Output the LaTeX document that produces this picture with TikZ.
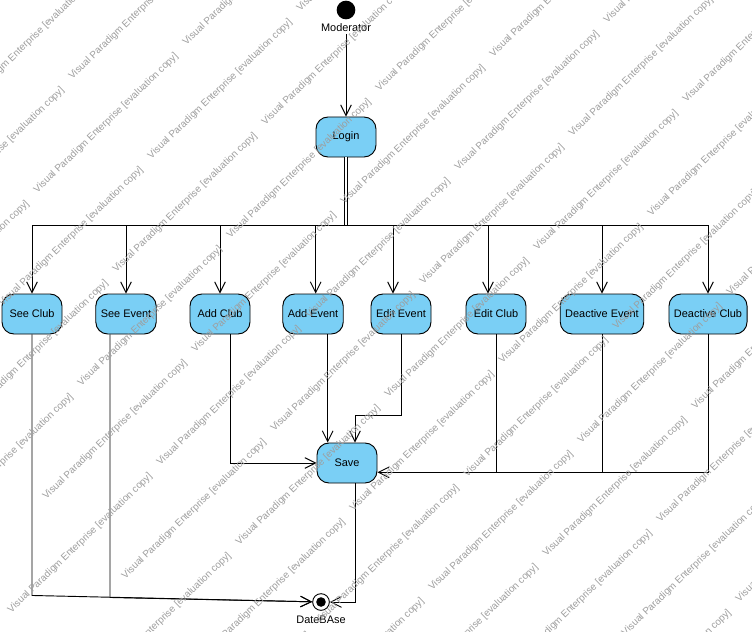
\documentclass[tikz,border=0pt]{standalone}
\usepackage{fontspec}
\setmainfont{Liberation Sans}
\usetikzlibrary{arrows.meta}
\definecolor{actblue}{HTML}{7ACFF5}

\begin{document}
\begin{tikzpicture}[x=0.75pt,y=-0.75pt,line width=0.7pt,
  act/.style={draw=black, fill=actblue, rounded corners=9pt, minimum width=45pt,
    minimum height=30pt, inner xsep=3.75pt, font=\fontsize{8.2}{10}\selectfont},
  flow/.style={-{Straight Barb[length=8pt,width=8pt]}},
  lbl/.style={font=\fontsize{8.2}{10}\selectfont, inner sep=1pt},
  wm/.style={anchor=base west, rotate=44, inner sep=0pt, text=black!38,
    font=\fontsize{7.4}{8}\selectfont}]
  % White page
  \useasboundingbox (0,0) rectangle (752,631);
  \fill[white] (0,0) rectangle (752,631);

  % Start and login
  \node[circle, fill=black, minimum size=14pt, inner sep=0pt] (start) at (346,10) {};
  \node[lbl] (modlbl) at (346,28) {Moderator};
  \node[act] (login) at (346,137) {Login};
  \draw[flow] (modlbl.south) -- (login.north);

  % Activities
  \node[act] (seeclub) at (32,314) {See Club};
  \node[act] (seeevent) at (126,314) {See Event};
  \node[act] (addclub) at (220,314) {Add Club};
  \node[act] (addevent) at (313,314) {Add Event};
  \node[act] (editevent) at (401,314) {Edit Event};
  \node[act] (editclub) at (496,314) {Edit Club};
  \node[act] (deacte) at (602,314) {Deactive Event};
  \node[act] (deactc) at (708,314) {Deactive Club};
  \node[act] (save) at (347,463) {Save};

  % Final node
  \node[circle, draw, fill=white, minimum size=12.5pt, inner sep=0pt,
    path picture={\fill[black] (path picture bounding box.center) circle (3.6pt);}]
    (final) at (321,602) {};
  \node[lbl] (dblbl) at (321,620) {DateBAse};

  % Fork from login to the activities
  \coordinate (fork) at (346,225);
  \draw[double, double distance=2pt] (login.south) -- (fork);
  \foreach \n/\dx in {seeclub/0, seeevent/0, addclub/0, addevent/2, editevent/-6,
                      editclub/-6, deacte/0, deactc/0} {
    \draw[flow] (fork) -| ([xshift=\dx pt]\n.north);
  }

  % Activities to save and to the data base
  \draw[flow] (seeclub.south) -- ++(0,261) -- (final);
  \draw[flow] ([xshift=-12pt]seeevent.south) -- ++(0,263) -- (final);
  \draw[flow] ([xshift=8pt]addclub.south) |- (save);
  \draw[flow] ([xshift=11pt]addevent.south) -- ([xshift=11pt]addevent.south |- save.north);
  \draw[flow] (editevent.south) -- ++(0,81) -| ([xshift=6pt]save.north);
  \draw (editclub.south) -- ++(0,138);
  \draw (deacte.south) -- ++(0,138);
  \draw[flow] (deactc.south) |- ([yshift=-7pt]save.east);
  \draw[flow] ([xshift=6pt]save.south) |- (final);

  % Evaluation watermark
  \begin{scope}
    \clip (0,0) rectangle (752,631);
    \foreach \i in {-4,...,8} {
      \foreach \j in {-4,...,9} {
        \node[wm] (wm-\i-\j) at ({72+114*\i+79*\j},{80-34*\i+79.5*\j})
          {Visual Paradigm Enterprise [evaluation copy]};
      }
    }
  \end{scope}
\end{tikzpicture}
\end{document}
